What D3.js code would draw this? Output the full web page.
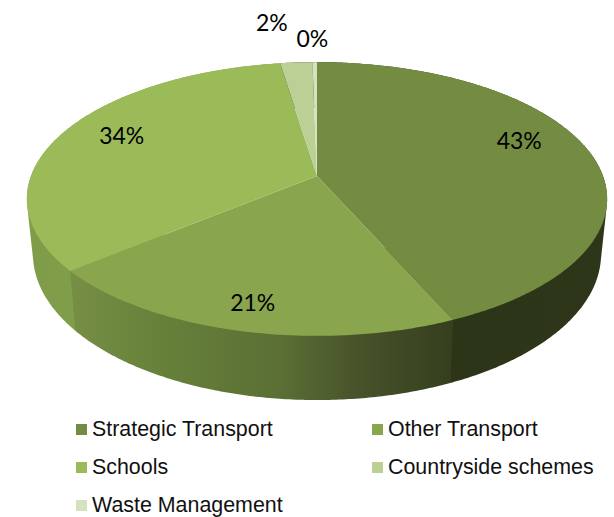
<!DOCTYPE html>
<html>
<head>
<meta charset="utf-8">
<script src="https://cdn.jsdelivr.net/npm/d3@7"></script>
<style>
  html, body { margin: 0; padding: 0; background: #fff; }
</style>
</head>
<body>
<svg id="chart" width="614" height="517" style="display:block"></svg>
<script>
var categories = ["Strategic Transport", "Other Transport", "Schools", "Countryside schemes", "Waste Management"];
var shares = [43.4, 20.6, 33.6, 2.1, 0.3];
var topColors = ["#738c42", "#89a54e", "#9bbb59", "#bccf94", "#d6e1bf"];

// wall shading, left to right along the x axis
var wallStops = [
  [["#2c3418", 0], ["#2e3619", 1]],
  [["#768f44", 0], ["#66803a", 0.25], ["#5b6f34", 0.55], ["#47532a", 0.75], ["#353e1e", 1]],
  [["#7f9c49", 0], ["#87a64e", 1]],
  [["#2c3418", 0], ["#2e3619", 1]],
  [["#2c3418", 0], ["#2e3619", 1]]
];

var svg = d3.select("#chart"),
  defs = svg.append("defs");

// pie is seen in perspective: the centre sits above the middle of the ellipse
var k = 0.168,
  upper = {cx: 317, cy: 176, rx: 286, ry: 133},
  lower = {cx: 317, cy: 229.5, rx: 280, ry: 141.9};

function project(angle, r, plane) {
  var u = r * Math.sin(angle),
    v = -r * Math.cos(angle),
    w = 1 - k * v;
  return [plane.cx + plane.rx * u / w, plane.cy + plane.ry * v / w];
}

var pie = d3.pie().sort(null).value(function (d) { return d; });
var arcs = pie(shares);

var line = d3.line();

function rim(d, plane) {
  var n = Math.max(2, Math.ceil((d.endAngle - d.startAngle) / 0.01));
  return d3.range(n + 1).map(function (i) {
    return project(d.startAngle + (d.endAngle - d.startAngle) * i / n, 1, plane);
  });
}

wallStops.forEach(function (stops, i) {
  var pts = rim(arcs[i], upper);
  defs.append("linearGradient")
    .attr("id", "wall" + i)
    .attr("gradientUnits", "userSpaceOnUse")
    .attr("x1", d3.min(pts, function (p) { return p[0]; }))
    .attr("x2", d3.max(pts, function (p) { return p[0]; }))
    .attr("y1", 0)
    .attr("y2", 0)
    .selectAll("stop")
    .data(stops)
    .enter().append("stop")
    .attr("offset", function (d) { return d[1]; })
    .attr("stop-color", function (d) { return d[0]; });
});

// walls, back slices first. The hull keeps the straight side edge of the
// drum, the top face and the front slice cover whatever it spills over.
[3, 4, 2, 0, 1].forEach(function (i) {
  var hull = d3.polygonHull(rim(arcs[i], upper).concat(rim(arcs[i], lower)));
  svg.append("path")
    .attr("d", line(hull) + "Z")
    .attr("fill", "url(#wall" + i + ")");
});

// top face
svg.append("g").selectAll("path")
  .data(arcs)
  .enter().append("path")
  .attr("d", function (d) { return line([[upper.cx, upper.cy]].concat(rim(d, upper))) + "Z"; })
  .attr("fill", function (d, i) { return topColors[i]; });

// percentage labels
var labelRadius = [0.76, 0.83, 0.76, 1.14, 1.14];
var labelNudge = [[-5, -15], [-1, 3], [-1, -6], [-22, -26], [-2, -10]];

svg.append("g").selectAll("text")
  .data(arcs)
  .enter().append("text")
  .attr("transform", function (d, i) {
    var p = project((d.startAngle + d.endAngle) / 2, labelRadius[i], upper);
    return "translate(" + (p[0] + labelNudge[i][0]) + "," + (p[1] + labelNudge[i][1]) + ")";
  })
  .attr("text-anchor", "middle")
  .attr("dy", "0.35em")
  .attr("font-family", "Lato, 'Open Sans', sans-serif")
  .attr("font-size", 23)
  .attr("fill", "#000")
  .text(function (d) { return Math.round(d.value) + "%"; });

// legend
var legendX = d3.scaleOrdinal().domain([0, 1]).range([76, 372]);
var legendY = d3.scaleOrdinal().domain([0, 1, 2]).range([424, 462, 500]);

var legend = svg.append("g").selectAll("g")
  .data(categories)
  .enter().append("g")
  .attr("transform", function (d, i) {
    return "translate(" + legendX(i % 2) + "," + legendY(Math.floor(i / 2)) + ")";
  });

legend.append("rect")
  .attr("width", 11)
  .attr("height", 11)
  .attr("fill", function (d, i) { return topColors[i]; });

legend.append("text")
  .attr("x", 16)
  .attr("y", 12)
  .attr("font-family", "'Liberation Sans', Arial, sans-serif")
  .attr("font-size", 21.4)
  .attr("fill", "#111")
  .text(function (d) { return d; });
</script>
</body>
</html>
